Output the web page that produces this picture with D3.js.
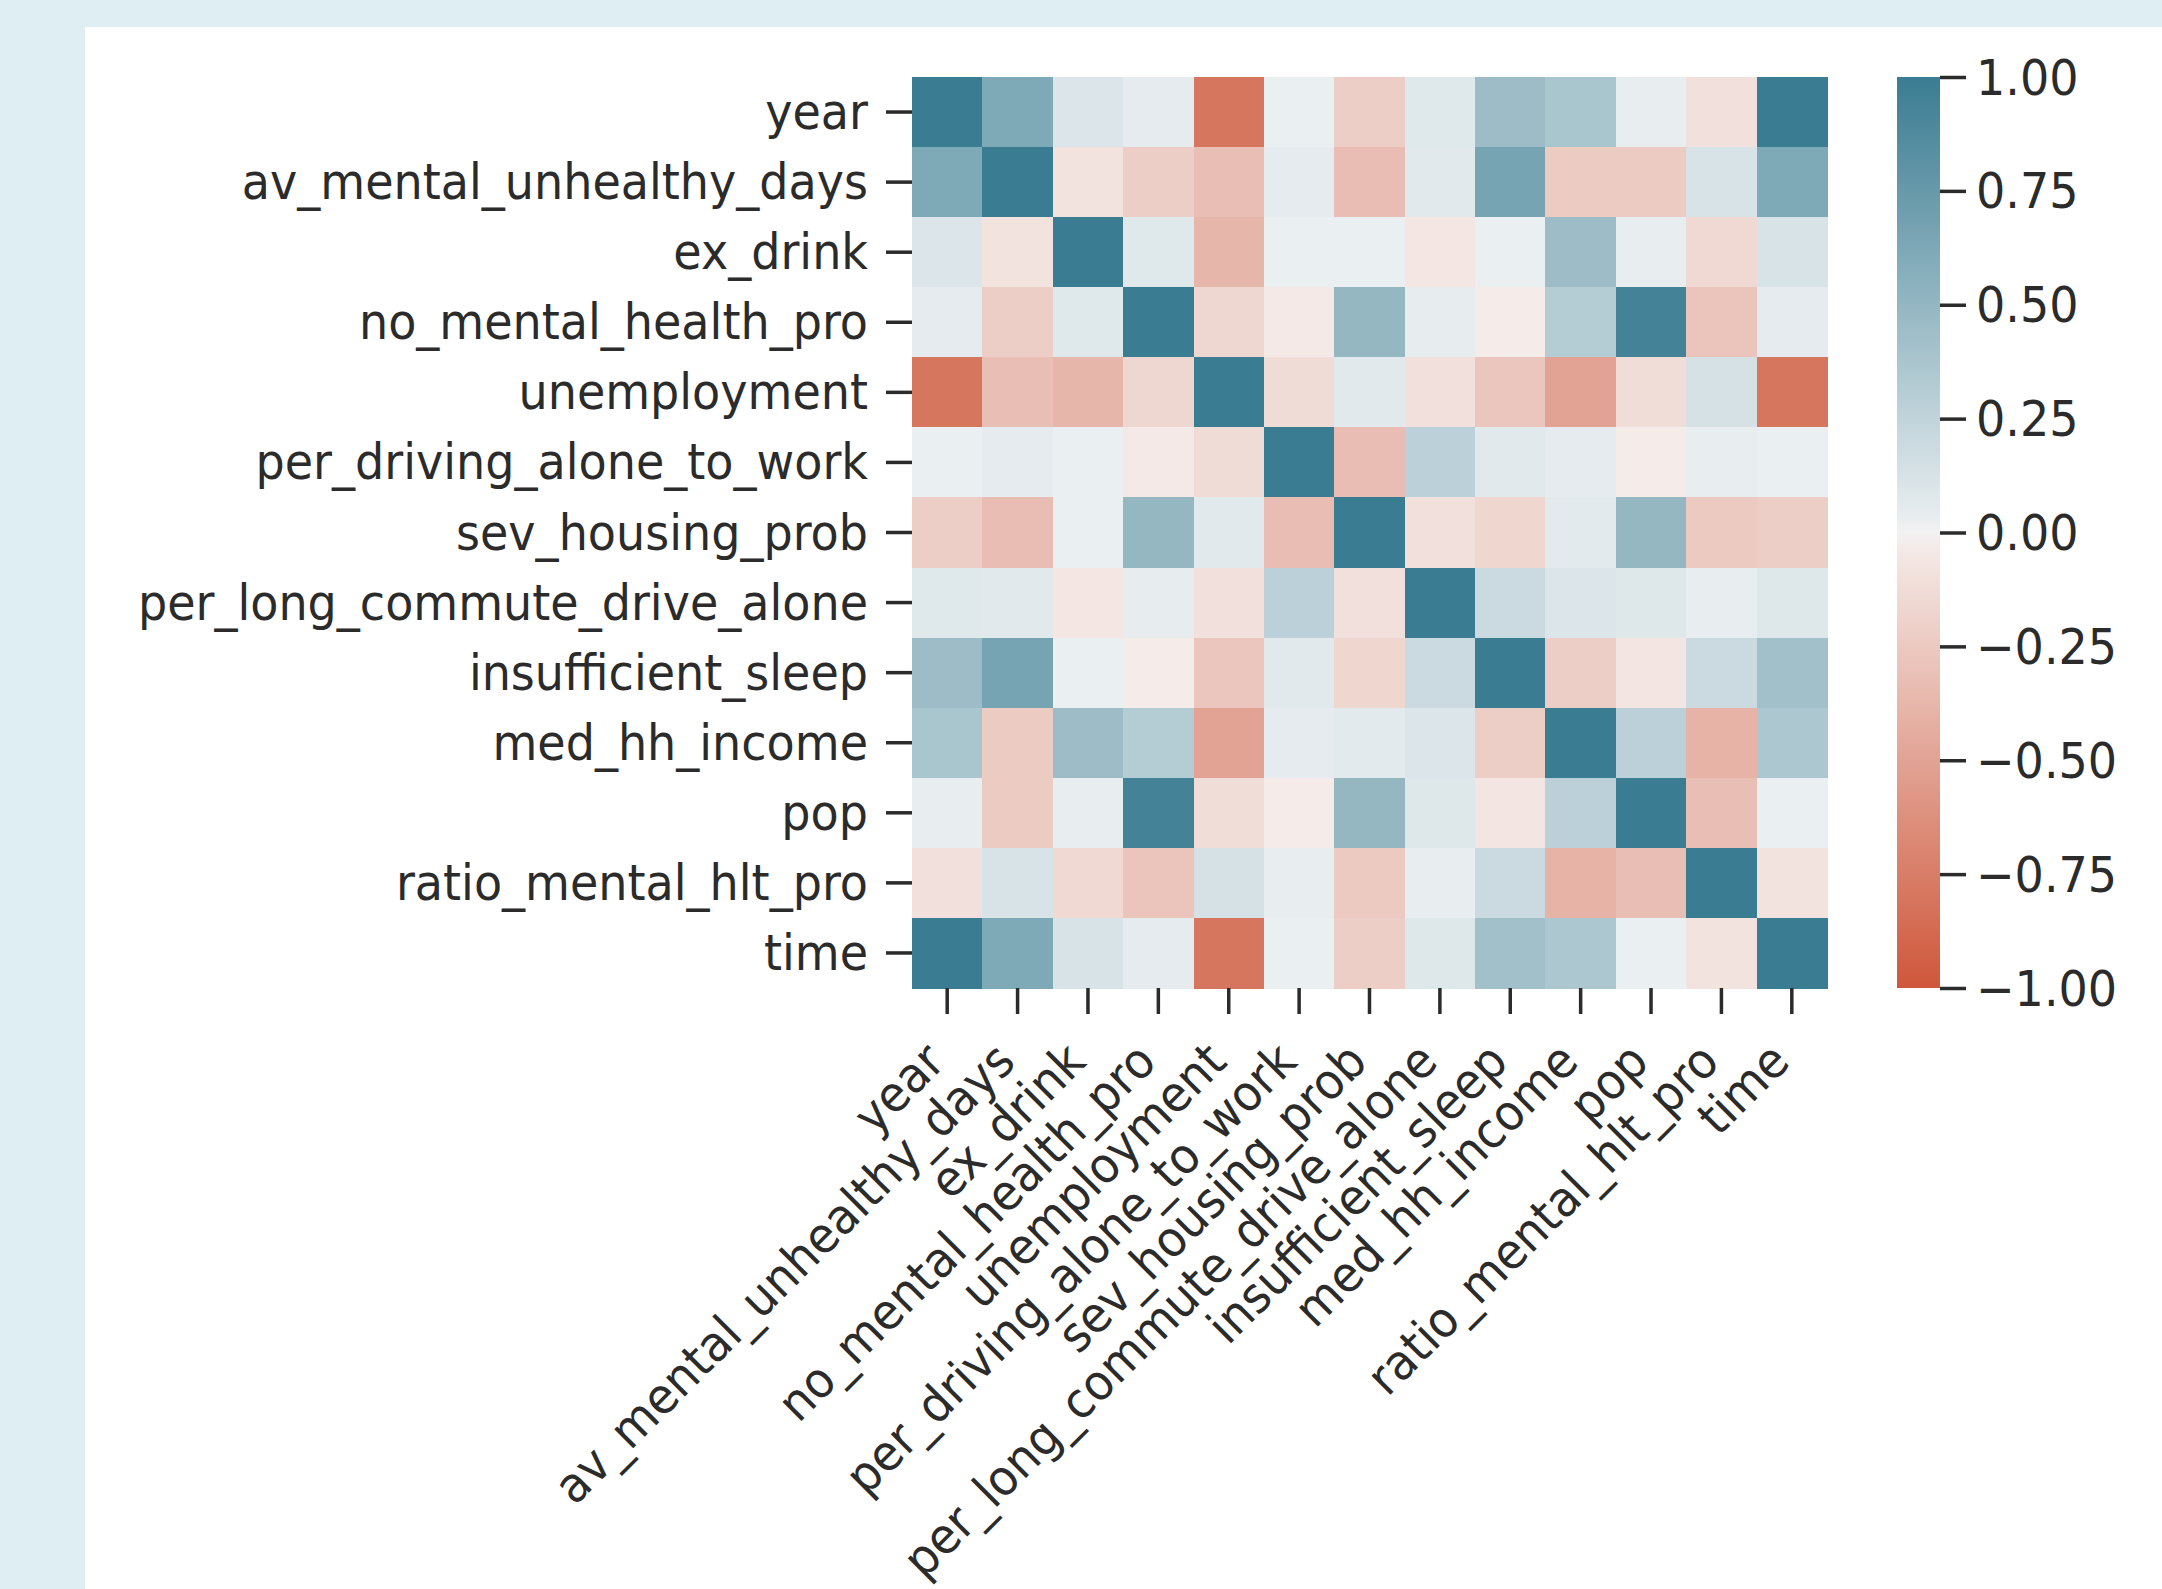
<!DOCTYPE html>
<html>
<head>
<meta charset="utf-8">
<script src="https://cdn.jsdelivr.net/npm/d3@7"></script>
<style>
  html, body { margin: 0; padding: 0; background: #deeef3; }
  svg { display: block; }
  text { font-family: "DejaVu Sans", sans-serif; fill: #2b2b2b; }
</style>
</head>
<body>
<div id="chart"></div>
<script>
// variable names, in row/column order
const variables = [
    'year', 'av_mental_unhealthy_days', 'ex_drink', 'no_mental_health_pro',
    'unemployment', 'per_driving_alone_to_work', 'sev_housing_prob',
    'per_long_commute_drive_alone', 'insufficient_sleep', 'med_hh_income',
    'pop', 'ratio_mental_hlt_pro', 'time'
];

// correlation matrix
const corr = [
    [ 1.00,  0.62,  0.10,  0.05, -0.80,  0.02, -0.22,  0.08,  0.45,  0.38,  0.03, -0.10,  1.00],
    [ 0.62,  1.00, -0.08, -0.22, -0.32,  0.05, -0.33,  0.07,  0.66, -0.24, -0.24,  0.12,  0.62],
    [ 0.10, -0.08,  1.00,  0.08, -0.38,  0.02,  0.02, -0.06,  0.02,  0.45,  0.03, -0.15,  0.12],
    [ 0.05, -0.22,  0.08,  1.00, -0.16, -0.04,  0.50,  0.04, -0.02,  0.32,  0.95, -0.28,  0.05],
    [-0.80, -0.32, -0.38, -0.16,  1.00, -0.13,  0.07, -0.10, -0.27, -0.50, -0.12,  0.14, -0.80],
    [ 0.02,  0.05,  0.02, -0.04, -0.13,  1.00, -0.33,  0.28,  0.07,  0.05, -0.02,  0.03,  0.02],
    [-0.22, -0.33,  0.02,  0.50,  0.07, -0.33,  1.00, -0.10, -0.17,  0.06,  0.50, -0.25, -0.22],
    [ 0.08,  0.07, -0.06,  0.04, -0.10,  0.28, -0.10,  1.00,  0.20,  0.10,  0.09,  0.03,  0.09],
    [ 0.45,  0.66,  0.02, -0.02, -0.27,  0.07, -0.17,  0.20,  1.00, -0.22, -0.07,  0.20,  0.42],
    [ 0.38, -0.24,  0.45,  0.32, -0.50,  0.05,  0.06,  0.10, -0.22,  1.00,  0.28, -0.40,  0.36],
    [ 0.03, -0.24,  0.03,  0.95, -0.12, -0.02,  0.50,  0.09, -0.07,  0.28,  1.00, -0.32,  0.02],
    [-0.10,  0.12, -0.15, -0.28,  0.14,  0.03, -0.25,  0.03,  0.20, -0.40, -0.32,  1.00, -0.08],
    [ 1.00,  0.62,  0.12,  0.05, -0.80,  0.02, -0.22,  0.09,  0.42,  0.36,  0.02, -0.08,  1.00]
];

const colorbarTicks = [1.00, 0.75, 0.50, 0.25, 0.00, -0.25, -0.50, -0.75, -1.00];

const width = 2162, height = 1589;
const hm = { left: 912, top: 77, right: 1827, bottom: 988 };
const cb = { left: 1897, right: 1940 };
const fontSize = 49;
const squeeze = 0.94;   // labels in the picture are a bit narrower than plain DejaVu
const tickLen = 26;

// diverging palette: red end -> tinted light -> grey centre -> tinted light -> blue end, blended in rgb
const color = d3.scaleLinear()
    .domain([-1, -0.01, 0, 0.01, 1])
    .range(['#cf573b', '#f5eeec', '#f2f2f2', '#ecf0f2', '#3a7c92'])
    .interpolate(d3.interpolateRgb)
    .clamp(true);

const svg = d3.select('#chart').append('svg')
    .attr('width', width)
    .attr('height', height);

// white panel on the light blue page
svg.append('rect')
    .attr('x', 85).attr('y', 27)
    .attr('width', width - 85).attr('height', height - 27)
    .attr('fill', '#ffffff');

const x = d3.scaleBand().domain(variables).range([hm.left, hm.right]);
const y = d3.scaleBand().domain(variables).range([hm.top, hm.bottom]);

// cells
const cells = [];
corr.forEach((row, i) => row.forEach((v, j) => cells.push({ r: variables[i], c: variables[j], v })));

svg.append('g').selectAll('rect')
    .data(cells)
    .enter()
    .append('rect')
    .attr('x', d => x(d.c))
    .attr('y', d => y(d.r))
    .attr('width', x.bandwidth() + 0.5)
    .attr('height', y.bandwidth() + 0.5)
    .attr('fill', d => color(d.v))
    .attr('shape-rendering', 'crispEdges');

// y axis
const yAxis = svg.append('g')
    .attr('transform', `translate(${hm.left},0)`)
    .call(d3.axisLeft(y).tickSize(tickLen).tickSizeOuter(0));
yAxis.select('.domain').remove();
yAxis.selectAll('.tick line').attr('stroke', '#2b2b2b').attr('stroke-width', 3.5);
yAxis.selectAll('.tick text')
    .attr('x', null).attr('dy', null)
    .attr('fill', '#2b2b2b')
    .style('font-size', fontSize + 'px')
    .attr('text-anchor', 'end')
    .attr('dominant-baseline', 'central')
    .attr('transform', `translate(${-tickLen - 18},0) scale(${squeeze},1)`);

// x axis
const xAxis = svg.append('g')
    .attr('transform', `translate(0,${hm.bottom})`)
    .call(d3.axisBottom(x).tickSize(tickLen).tickSizeOuter(0));
xAxis.select('.domain').remove();
xAxis.selectAll('.tick line').attr('stroke', '#2b2b2b').attr('stroke-width', 3.5);
xAxis.selectAll('.tick text')
    .attr('y', null).attr('dy', null)
    .attr('fill', '#2b2b2b')
    .style('font-size', fontSize + 'px')
    .attr('text-anchor', 'end')
    .attr('transform', `translate(0,${tickLen + 50}) rotate(-45) scale(${squeeze},1)`);

// colorbar
const defs = svg.append('defs');
const grad = defs.append('linearGradient')
    .attr('id', 'cbar')
    .attr('x1', 0).attr('y1', 1).attr('x2', 0).attr('y2', 0);
d3.range(0, 1.0001, 0.02).forEach(t => {
    grad.append('stop')
        .attr('offset', t)
        .attr('stop-color', color(-1 + 2 * t));
});

const cbScale = d3.scaleLinear().domain([-1, 1]).range([hm.bottom, hm.top]);

svg.append('rect')
    .attr('x', cb.left)
    .attr('y', hm.top)
    .attr('width', cb.right - cb.left)
    .attr('height', hm.bottom - hm.top)
    .attr('fill', 'url(#cbar)');

const cbAxis = svg.append('g')
    .attr('transform', `translate(${cb.right},0)`)
    .call(d3.axisRight(cbScale).tickValues(colorbarTicks).tickSize(tickLen).tickSizeOuter(0)
        .tickFormat(d => d3.format('.2f')(d).replace('-', '\u2212')));
cbAxis.select('.domain').remove();
cbAxis.selectAll('.tick line').attr('stroke', '#2b2b2b').attr('stroke-width', 3.5);
cbAxis.selectAll('.tick text')
    .attr('x', null).attr('dy', null)
    .attr('fill', '#2b2b2b')
    .style('font-size', fontSize + 'px')
    .attr('text-anchor', 'start')
    .attr('dominant-baseline', 'central')
    .attr('transform', `translate(${tickLen + 10},0) scale(${squeeze},1)`);
</script>
</body>
</html>
